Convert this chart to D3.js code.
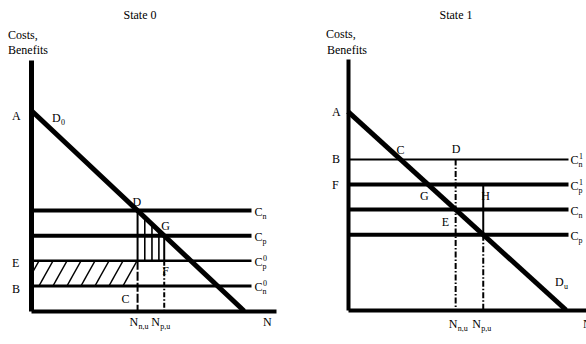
<!DOCTYPE html>
<meta charset="utf-8">
<script src="https://d3js.org/d3.v7.min.js"></script>
<style>body{margin:0;background:#fff}</style>
<body>
<div id="chart"></div>
<script>
const titles=["State 0","State 1"];
// demand line: [value at N=0, N where it reaches 0]
const demand0=[80,87];
const demand1=[79,89];
// horizontal cost levels (top to bottom)
const costs0=[40,30,20,10];
const costNames0=[["n",""],["p",""],["p","0"],["n","0"]];
const costs1=[60,50,40,30];
const costNames1=[["n","1"],["p","1"],["n",""],["p",""]];
const lineEnd=90;

const svg=d3.select("#chart").append("svg")
    .attr("width",586).attr("height",344)
    .style("font-family","'Liberation Serif', 'Times New Roman', serif")
    .style("font-size","12px");

const dx=(d,c)=>d[1]*(1-c/d[0]);   // N where demand equals c

function txt(g,x,y,s,size,anchor){
    return g.append("text").attr("x",x).attr("y",y).attr("font-size",size||12)
        .attr("text-anchor",anchor||"start").text(s);
}
function nLabel(g,x,y,big,sub){
    txt(g,x,y,big);
    txt(g,x+9,y+3,sub,8);
}
function cLabel(g,x,y,sub,sup){
    txt(g,x,y,"C");
    txt(g,x+8,y+3,sub,8);
    if(sup) txt(g,x+8.5,y-5,sup,8);
}
function frame(g,x,y,w){
    g.append("g").attr("transform",`translate(${x(0)},0)`)
        .call(d3.axisLeft(y).tickValues([]).tickSizeOuter(0))
        .select(".domain").attr("stroke","#000").attr("stroke-width",w);
    g.append("g").attr("transform",`translate(0,${y(0)})`)
        .call(d3.axisBottom(x).tickValues([]).tickSizeOuter(0))
        .select(".domain").attr("stroke","#000").attr("stroke-width",4);
}
const line=(x,y)=>d3.line().x(d=>x(d[0])).y(d=>y(d[1]));

// ---------- State 0 ----------
{
    const g=svg.append("g");
    const x=d3.scaleLinear().domain([0,100]).range([31,276]);
    const y=d3.scaleLinear().domain([0,100]).range([311,60]);
    const L=line(x,y);
    txt(g,140,19,titles[0],12,"middle");
    txt(g,8,39,"Costs,");
    txt(g,8,54,"Benefits");

    const nn=dx(demand0,costs0[0]), np=dx(demand0,costs0[1]);

    // hatched area between Cp0 and Cn0 up to N_n,u
    const hx0=x(0), hx1=x(nn), hy0=y(costs0[2]), hy1=y(costs0[3]);
    svg.append("clipPath").attr("id","hclip").append("rect")
        .attr("x",hx0).attr("y",hy0).attr("width",hx1-hx0).attr("height",hy1-hy0);
    g.append("g").attr("clip-path","url(#hclip)")
        .selectAll("line").data(d3.range(hx0-20,hx1+10,14)).join("line")
        .attr("x1",d=>d).attr("y1",hy1).attr("x2",d=>d+14).attr("y2",hy0)
        .attr("stroke","#000").attr("stroke-width",1.4);

    // vertical strokes between D and G down to Cp0
    g.selectAll(".vh").data([0.27,0.54,0.8]).join("line")
        .attr("x1",f=>x(nn+(np-nn)*f)).attr("x2",f=>x(nn+(np-nn)*f))
        .attr("y1",f=>y(demand0[0]*(1-(nn+(np-nn)*f)/demand0[1])))
        .attr("y2",y(costs0[2]))
        .attr("stroke","#000").attr("stroke-width",1.6);

    // N_n,u and N_p,u verticals
    g.append("path").attr("d",L([[nn,costs0[0]],[nn,costs0[2]]])).attr("stroke","#000").attr("stroke-width",2);
    g.append("path").attr("d",L([[nn,costs0[2]],[nn,0]])).attr("stroke","#000").attr("stroke-width",2).attr("stroke-dasharray","9,2");
    g.append("path").attr("d",L([[np,costs0[1]],[np,costs0[2]]])).attr("stroke","#000").attr("stroke-width",2);
    g.append("path").attr("d",L([[np,costs0[2]],[np,0]])).attr("stroke","#000").attr("stroke-width",2).attr("stroke-dasharray","5,2,1.5,2");

    const widths=[4,4,2.5,3];
    costs0.forEach((c,i)=>{
        g.append("path").attr("d",L([[0,c],[lineEnd,c]])).attr("stroke","#000").attr("stroke-width",widths[i]);
        cLabel(g,x(lineEnd)+3,y(c)+5,costNames0[i][0],costNames0[i][1]);
    });
    g.append("path").attr("d",L([[0,demand0[0]],[demand0[1],0]])).attr("stroke","#000").attr("stroke-width",5);
    frame(g,x,y,5);

    txt(g,12,y(demand0[0])+10,"A");
    nLabel(g,52,122,"D","0");
    txt(g,12,y(costs0[2])+6,"E");
    txt(g,12,y(costs0[3])+7,"B");
    txt(g,x(nn)-5,y(costs0[0])-5,"D");
    txt(g,x(np)-3,y(costs0[1])-6,"G");
    txt(g,x(np)-2,y(costs0[2])+14,"F");
    txt(g,x(nn)-16,y(costs0[3])+17,"C");
    nLabel(g,x(nn)-8,326,"N","n,u");
    nLabel(g,x(np)-13,326,"N","p,u");
    txt(g,263,326,"N");
}

// ---------- State 1 ----------
{
    const g=svg.append("g");
    const x=d3.scaleLinear().domain([0,100]).range([348,593]);
    const y=d3.scaleLinear().domain([0,100]).range([310,59]);
    const L=line(x,y);
    txt(g,456,19,titles[1],12,"middle");
    txt(g,326,38,"Costs,");
    txt(g,327,54,"Benefits");

    const nn=dx(demand1,costs1[2]), np=dx(demand1,costs1[3]);
    const cx=dx(demand1,costs1[0]), gx=dx(demand1,costs1[1]);

    g.append("path").attr("d",L([[nn,costs1[0]],[nn,0]])).attr("stroke","#000").attr("stroke-width",2).attr("stroke-dasharray","6,2,1.5,2");
    g.append("path").attr("d",L([[np,costs1[1]],[np,costs1[3]]])).attr("stroke","#000").attr("stroke-width",2);
    g.append("path").attr("d",L([[np,costs1[3]],[np,0]])).attr("stroke","#000").attr("stroke-width",2).attr("stroke-dasharray","6,2,1.5,2");

    const widths=[2,4,4,4];
    costs1.forEach((c,i)=>{
        g.append("path").attr("d",L([[0,c],[lineEnd,c]])).attr("stroke","#000").attr("stroke-width",widths[i]);
        cLabel(g,x(lineEnd)+2,y(c)+5,costNames1[i][0],costNames1[i][1]);
    });
    g.append("path").attr("d",L([[0,demand1[0]],[demand1[1],0]])).attr("stroke","#000").attr("stroke-width",5);
    frame(g,x,y,4);

    txt(g,332,y(demand1[0])+4,"A");
    txt(g,332,y(costs1[0])+4,"B");
    txt(g,332,y(costs1[1])+4,"F");
    txt(g,x(cx)-4,y(costs1[0])-5,"C");
    txt(g,x(nn)-4,y(costs1[0])-6,"D");
    txt(g,x(gx)-8,y(costs1[1])+15,"G");
    txt(g,x(np)-2,y(costs1[1])+15,"H");
    txt(g,x(nn)-14,y(costs1[2])+16,"E");
    nLabel(g,x(84.5),286,"D","u");
    nLabel(g,x(nn)-7,328,"N","n,u");
    nLabel(g,x(np)-11,328,"N","p,u");
    txt(g,583,328,"N");
}
</script>
</body>
